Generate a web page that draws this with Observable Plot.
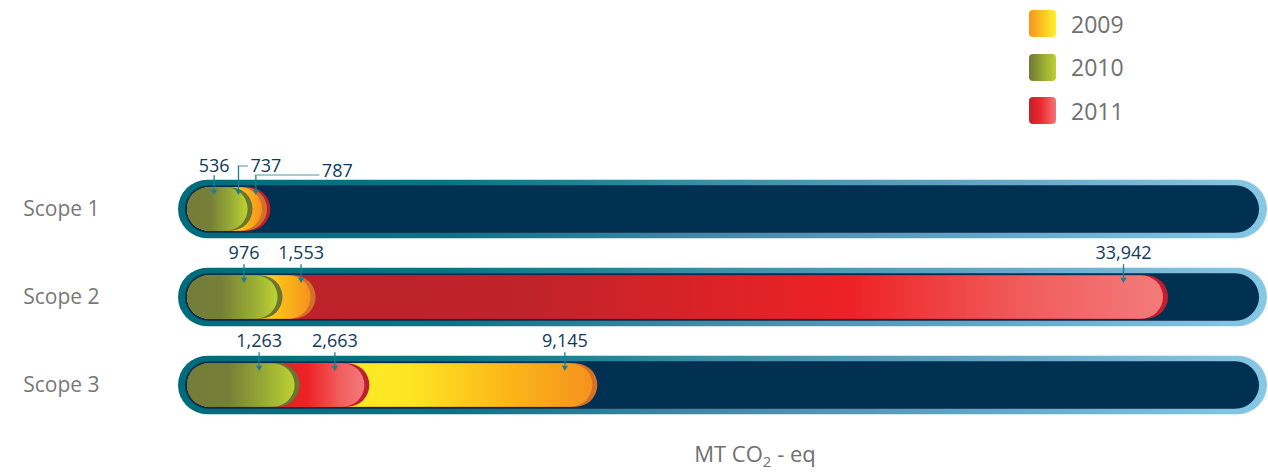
<!DOCTYPE html>
<html>
<head>
<meta charset="utf-8">
<script src="https://cdn.jsdelivr.net/npm/d3@7"></script>
<script src="https://cdn.jsdelivr.net/npm/@observablehq/plot@0.6"></script>
<style>
  body { margin: 0; background: #fff; overflow: hidden; font-family: "Open Sans", sans-serif; }
  #legend { height: 140px; box-sizing: border-box; padding: 10px 0 0 1029px; display: flex; flex-direction: column; gap: 16.5px; }
  .item { display: flex; align-items: center; height: 27px; }
  .sw { width: 27px; height: 27px; border-radius: 4px; }
  .item span { margin-left: 15px; font-size: 23px; color: #707070; }
  #chart svg { display: block; }
  #caption { height: 37px; line-height: 37px; padding-left: 242px; width: 1026px; text-align: center; font-size: 22px; color: #707070; }
  #caption sub { font-size: 15px; line-height: 0; }
</style>
</head>
<body>
<div id="legend"></div>
<div id="chart"></div>
<div id="caption">MT CO<sub>2</sub> - eq</div>
<script>
// Greenhouse gas emissions by scope, MT CO2-eq
const scopes = ["Scope 1", "Scope 2", "Scope 3"];
const years = ["2009", "2010", "2011"];
const emissions2009 = [737, 1553, 9145];
const emissions2010 = [536, 976, 1263];
const emissions2011 = [787, 33942, 2663];

const seriesByYear = { "2009": emissions2009, "2010": emissions2010, "2011": emissions2011 };

// one row per scope and year
const rows = scopes.flatMap((scope, i) =>
  years.map(year => ({ scope, year, value: seriesByYear[year][i] }))
);
// within a scope the longest capsule sits at the back, the shortest in front
for (const s of scopes) {
  rows.filter(d => d.scope === s)
      .sort((a, b) => b.value - a.value)
      .forEach((d, k) => { d.rank = k; });
}

// colours
const barStops = {
  "2009": [[0, "#fff22b"], [0.55, "#fde524"], [0.78, "#fbb919"], [1, "#f6921e"]],
  "2010": [[0, "#727d38"], [0.38, "#767f37"], [0.72, "#97ab35"], [1, "#bdd231"]],
  "2011": [[0, "#bb2129"], [0.35, "#c0232a"], [0.68, "#ee2225"], [0.86, "#f15d5d"], [1, "#f37a7b"]]
};
const rimColor = { "2009": "#d3702a", "2010": "#6a7630", "2011": "#be1e2d" };
const trackStops = [[0, "#006c7b"], [0.25, "#0a7485"], [0.48, "#3a8da3"], [0.75, "#62a8c6"], [1, "#86c8e6"]];
const swatch = {
  "2009": "linear-gradient(to right, #f7941d, #fff22b)",
  "2010": "linear-gradient(to right, #6f7a35, #bcd232)",
  "2011": "linear-gradient(to right, #c1202b, #ee2a2e 45%, #f37779)"
};
const teal = "#1d7d8e";
const navy = "#0d3a5c";

// legend
const legend = d3.select("#legend");
for (const y of years) {
  const it = legend.append("div").attr("class", "item");
  it.append("div").attr("class", "sw").style("background", swatch[y]);
  it.append("span").text(y);
}

// geometry of each scope row
const BAND = 88.5, HALF = BAND / 2;
const BAR_INSET = 22.25;   // leaves a 44px capsule
const TIP = -16;           // arrow tip, relative to row centre

// callout placement (offsets in px from the end of the capsule / row centre)
const callout = {
  default:        { ax: -28, ty: -44, top: -33 },
  "Scope 1|2010": { ax: -34, ty: -43, top: -34 },
  "Scope 1|2009": { ax: -24, ty: -43, top: -43, leader: 10 },
  "Scope 1|2011": { ax: -10, ty: -38, top: -34, leader: 64 },
  "Scope 2|2010": { ax: -34, ty: -44, top: -33 },
  "Scope 2|2009": { ax: -10, ty: -44, top: -33 },
  "Scope 2|2011": { ax: -40, ty: -44, top: -33 },
  "Scope 3|2010": { ax: -36, ty: -44, top: -33 },
  "Scope 3|2011": { ax: -30, ty: -44, top: -33 }
};

const marks = [
  // track: light rim, thin dark edge, navy interior
  Plot.cell(scopes, { y: d => d, fill: "url(#track-rim)", rx: 29.5, insetTop: 14.75, insetBottom: 14.75 }),
  Plot.cell(scopes, { y: d => d, fill: "#0b2b4b", rx: 24, insetTop: 20.25, insetBottom: 20.25, insetLeft: 7, insetRight: 8 }),
  Plot.cell(scopes, { y: d => d, fill: "#003152", rx: 23, insetTop: 21, insetBottom: 21, insetLeft: 7.5, insetRight: 8.5 })
];

for (const rank of [0, 1, 2]) {
  const layer = rows.filter(d => d.rank === rank);
  marks.push(
    Plot.barX(layer, { x1: () => 0, x2: "value", y: "scope", fill: d => rimColor[d.year], rx: 22,
      insetTop: BAR_INSET, insetBottom: BAR_INSET, insetRight: -5 }),
    Plot.barX(layer, { x1: () => 0, x2: "value", y: "scope", fill: d => `url(#bar-${d.year})`, rx: 22,
      insetTop: BAR_INSET, insetBottom: BAR_INSET })
  );
}

const fmt = d3.format(",");
for (const d of rows) {
  const c = callout[`${d.scope}|${d.year}`] ?? callout.default;
  marks.push(
    Plot.tickX([d], { x: "value", y: "scope", dx: c.ax, stroke: teal, strokeWidth: 1.3,
      insetTop: HALF + c.top, insetBottom: HALF - TIP + 3 }),
    Plot.dot([d], { x: "value", y: "scope", dx: c.ax, dy: TIP - 2, symbol: "triangle", rotate: 180,
      r: 2.3, fill: teal, stroke: "none" }),
    Plot.text([d], { x: "value", y: "scope", text: r => fmt(r.value),
      dx: c.ax + (c.leader ? c.leader + 2 : 0), dy: c.ty,
      textAnchor: c.leader ? "start" : "middle", fill: navy, fontSize: 18 })
  );
  if (c.leader) {
    marks.push(Plot.barX([d], { x1: "value", x2: "value", y: "scope", dx: c.ax, fill: teal,
      insetLeft: -0.65, insetRight: -c.leader,
      insetTop: HALF + c.top - 0.65, insetBottom: HALF - c.top - 0.65 }));
  }
}

marks.push(Plot.axisY({ tickSize: 0, tickPadding: 79, fontSize: 21, color: "#777777", label: null }));

const svg = Plot.plot({
  width: 1268,
  height: 295,
  marginLeft: 178,
  marginRight: 1,
  marginTop: 0,
  marginBottom: 0,
  style: { fontFamily: '"Open Sans", sans-serif', background: "transparent", overflow: "visible" },
  x: { type: "pow", exponent: 0.67, domain: [0, d3.max(rows, d => d.value)], range: [187, 1163], axis: null },
  y: { domain: scopes, range: [23.75, 289.25], padding: 0 },
  marks
});

// gradients used by the capsules
const defs = d3.select(svg).insert("defs", ":first-child");
function addGradient(id, stops) {
  const g = defs.append("linearGradient").attr("id", id)
    .attr("x1", 0).attr("x2", 1).attr("y1", 0).attr("y2", 0);
  for (const [o, col] of stops) g.append("stop").attr("offset", o).attr("stop-color", col);
}
addGradient("track-rim", trackStops);
for (const y of years) addGradient(`bar-${y}`, barStops[y]);

document.getElementById("chart").appendChild(svg);
</script>
</body>
</html>
